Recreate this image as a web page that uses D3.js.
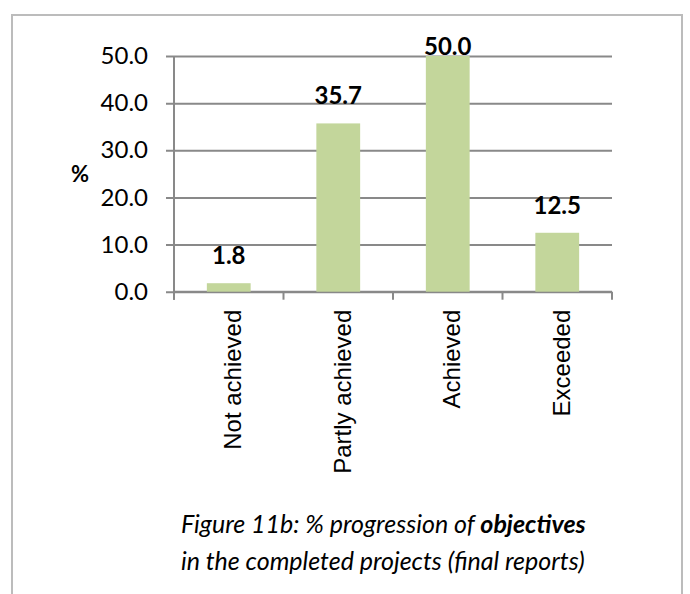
<!DOCTYPE html>
<html>
<head>
<meta charset="utf-8">
<script src="https://cdn.jsdelivr.net/npm/d3@7"></script>
<style>
  html, body { margin: 0; padding: 0; background: #fff; }
  svg { display: block; }
</style>
</head>
<body>
<svg id="chart" width="690" height="594"></svg>
<script>
// Share of objectives by level of progression (%)
const categories = ["Not achieved", "Partly achieved", "Achieved", "Exceeded"];
const values = [1.8, 35.7, 50.0, 12.5];
const yTicks = [0, 10, 20, 30, 40, 50];
const captionLine1 = ["Figure 11b: % progression of ", "objectives"];
const captionLine2 = "in the completed projects (final reports)";

const svg = d3.select("#chart");
const W = 690, H = 594;

// outer frame
svg.append("rect")
  .attr("x", 12).attr("y", 15)
  .attr("width", 670).attr("height", H + 20)
  .attr("fill", "none")
  .attr("stroke", "#bcbcbc")
  .attr("stroke-width", 2);

const plot = { left: 174, right: 612, top: 56, bottom: 291.7 };

const x = d3.scaleBand()
  .domain(categories)
  .range([plot.left, plot.right])
  .padding(0);

const y = d3.scaleLinear()
  .domain([0, 50])
  .range([plot.bottom, plot.top]);

const gridColor = "#898989";
const numFont = "Lato, 'Open Sans', sans-serif";

// y axis with gridlines
const yAxis = svg.append("g")
  .attr("transform", `translate(${plot.left},0)`)
  .call(d3.axisLeft(y).tickValues(yTicks).tickSize(8).tickPadding(18)
    .tickFormat(d3.format(".1f")));
yAxis.select(".domain").remove();
yAxis.selectAll(".tick line")
  .attr("x1", plot.right - plot.left)
  .attr("x2", -8)
  .attr("stroke", gridColor)
  .attr("stroke-width", 2);
yAxis.selectAll(".tick text")
  .attr("font-family", numFont)
  .attr("font-size", 24)
  .attr("fill", "#000");

// vertical axis line
svg.append("line")
  .attr("x1", plot.left).attr("x2", plot.left)
  .attr("y1", plot.top).attr("y2", plot.bottom + 8)
  .attr("stroke", gridColor).attr("stroke-width", 2);

// x axis with category boundary ticks
const xAxis = svg.append("g")
  .attr("transform", `translate(0,${plot.bottom})`);
xAxis.append("line")
  .attr("x1", plot.left).attr("x2", plot.right)
  .attr("stroke", gridColor).attr("stroke-width", 2);
const bounds = categories.map(c => x(c)).concat([x(categories[categories.length - 1]) + x.bandwidth()]);
xAxis.selectAll("line.bound")
  .data(bounds)
  .join("line")
  .attr("class", "bound")
  .attr("x1", d => d).attr("x2", d => d)
  .attr("y1", 0).attr("y2", 8)
  .attr("stroke", gridColor).attr("stroke-width", 2);

// category labels, rotated
svg.selectAll("text.cat")
  .data(categories)
  .join("text")
  .attr("class", "cat")
  .attr("transform", d => `translate(${x(d) + x.bandwidth() / 2 + 4},${plot.bottom + 18}) rotate(-90)`)
  .attr("text-anchor", "end")
  .attr("dy", "0.35em")
  .attr("font-family", "'Liberation Sans', Arial, sans-serif")
  .attr("font-size", 24)
  .attr("fill", "#000")
  .text(d => d);

// bars
const barW = x.bandwidth() / 2.5;
svg.selectAll("rect.bar")
  .data(values)
  .join("rect")
  .attr("class", "bar")
  .attr("x", (d, i) => x(categories[i]) + (x.bandwidth() - barW) / 2)
  .attr("y", d => y(d))
  .attr("width", barW)
  .attr("height", d => y(0) - y(d))
  .attr("fill", "#c3d69b");

// value labels (kept inside the plot area at the top)
svg.selectAll("text.val")
  .data(values)
  .join("text")
  .attr("class", "val")
  .attr("x", (d, i) => x(categories[i]) + x.bandwidth() / 2)
  .attr("y", d => Math.max(y(d) - 19, plot.top - 1))
  .attr("text-anchor", "middle")
  .attr("font-family", numFont)
  .attr("font-weight", "bold")
  .attr("font-size", 24)
  .attr("fill", "#000")
  .text(d => d3.format(".1f")(d));

// y axis title
svg.append("text")
  .attr("x", 80).attr("y", 174)
  .attr("dy", "0.35em")
  .attr("text-anchor", "middle")
  .attr("font-family", numFont)
  .attr("font-weight", "bold")
  .attr("font-size", 22)
  .text("%");

// caption
const cap = svg.append("g")
  .attr("font-family", numFont)
  .attr("font-style", "italic")
  .attr("font-size", 25)
  .attr("fill", "#000");
const t1 = cap.append("text").attr("x", 181).attr("y", 533);
t1.append("tspan").text(captionLine1[0]);
t1.append("tspan").attr("font-weight", "bold").text(captionLine1[1]);
cap.append("text").attr("x", 181).attr("y", 570).text(captionLine2);
</script>
</body>
</html>
